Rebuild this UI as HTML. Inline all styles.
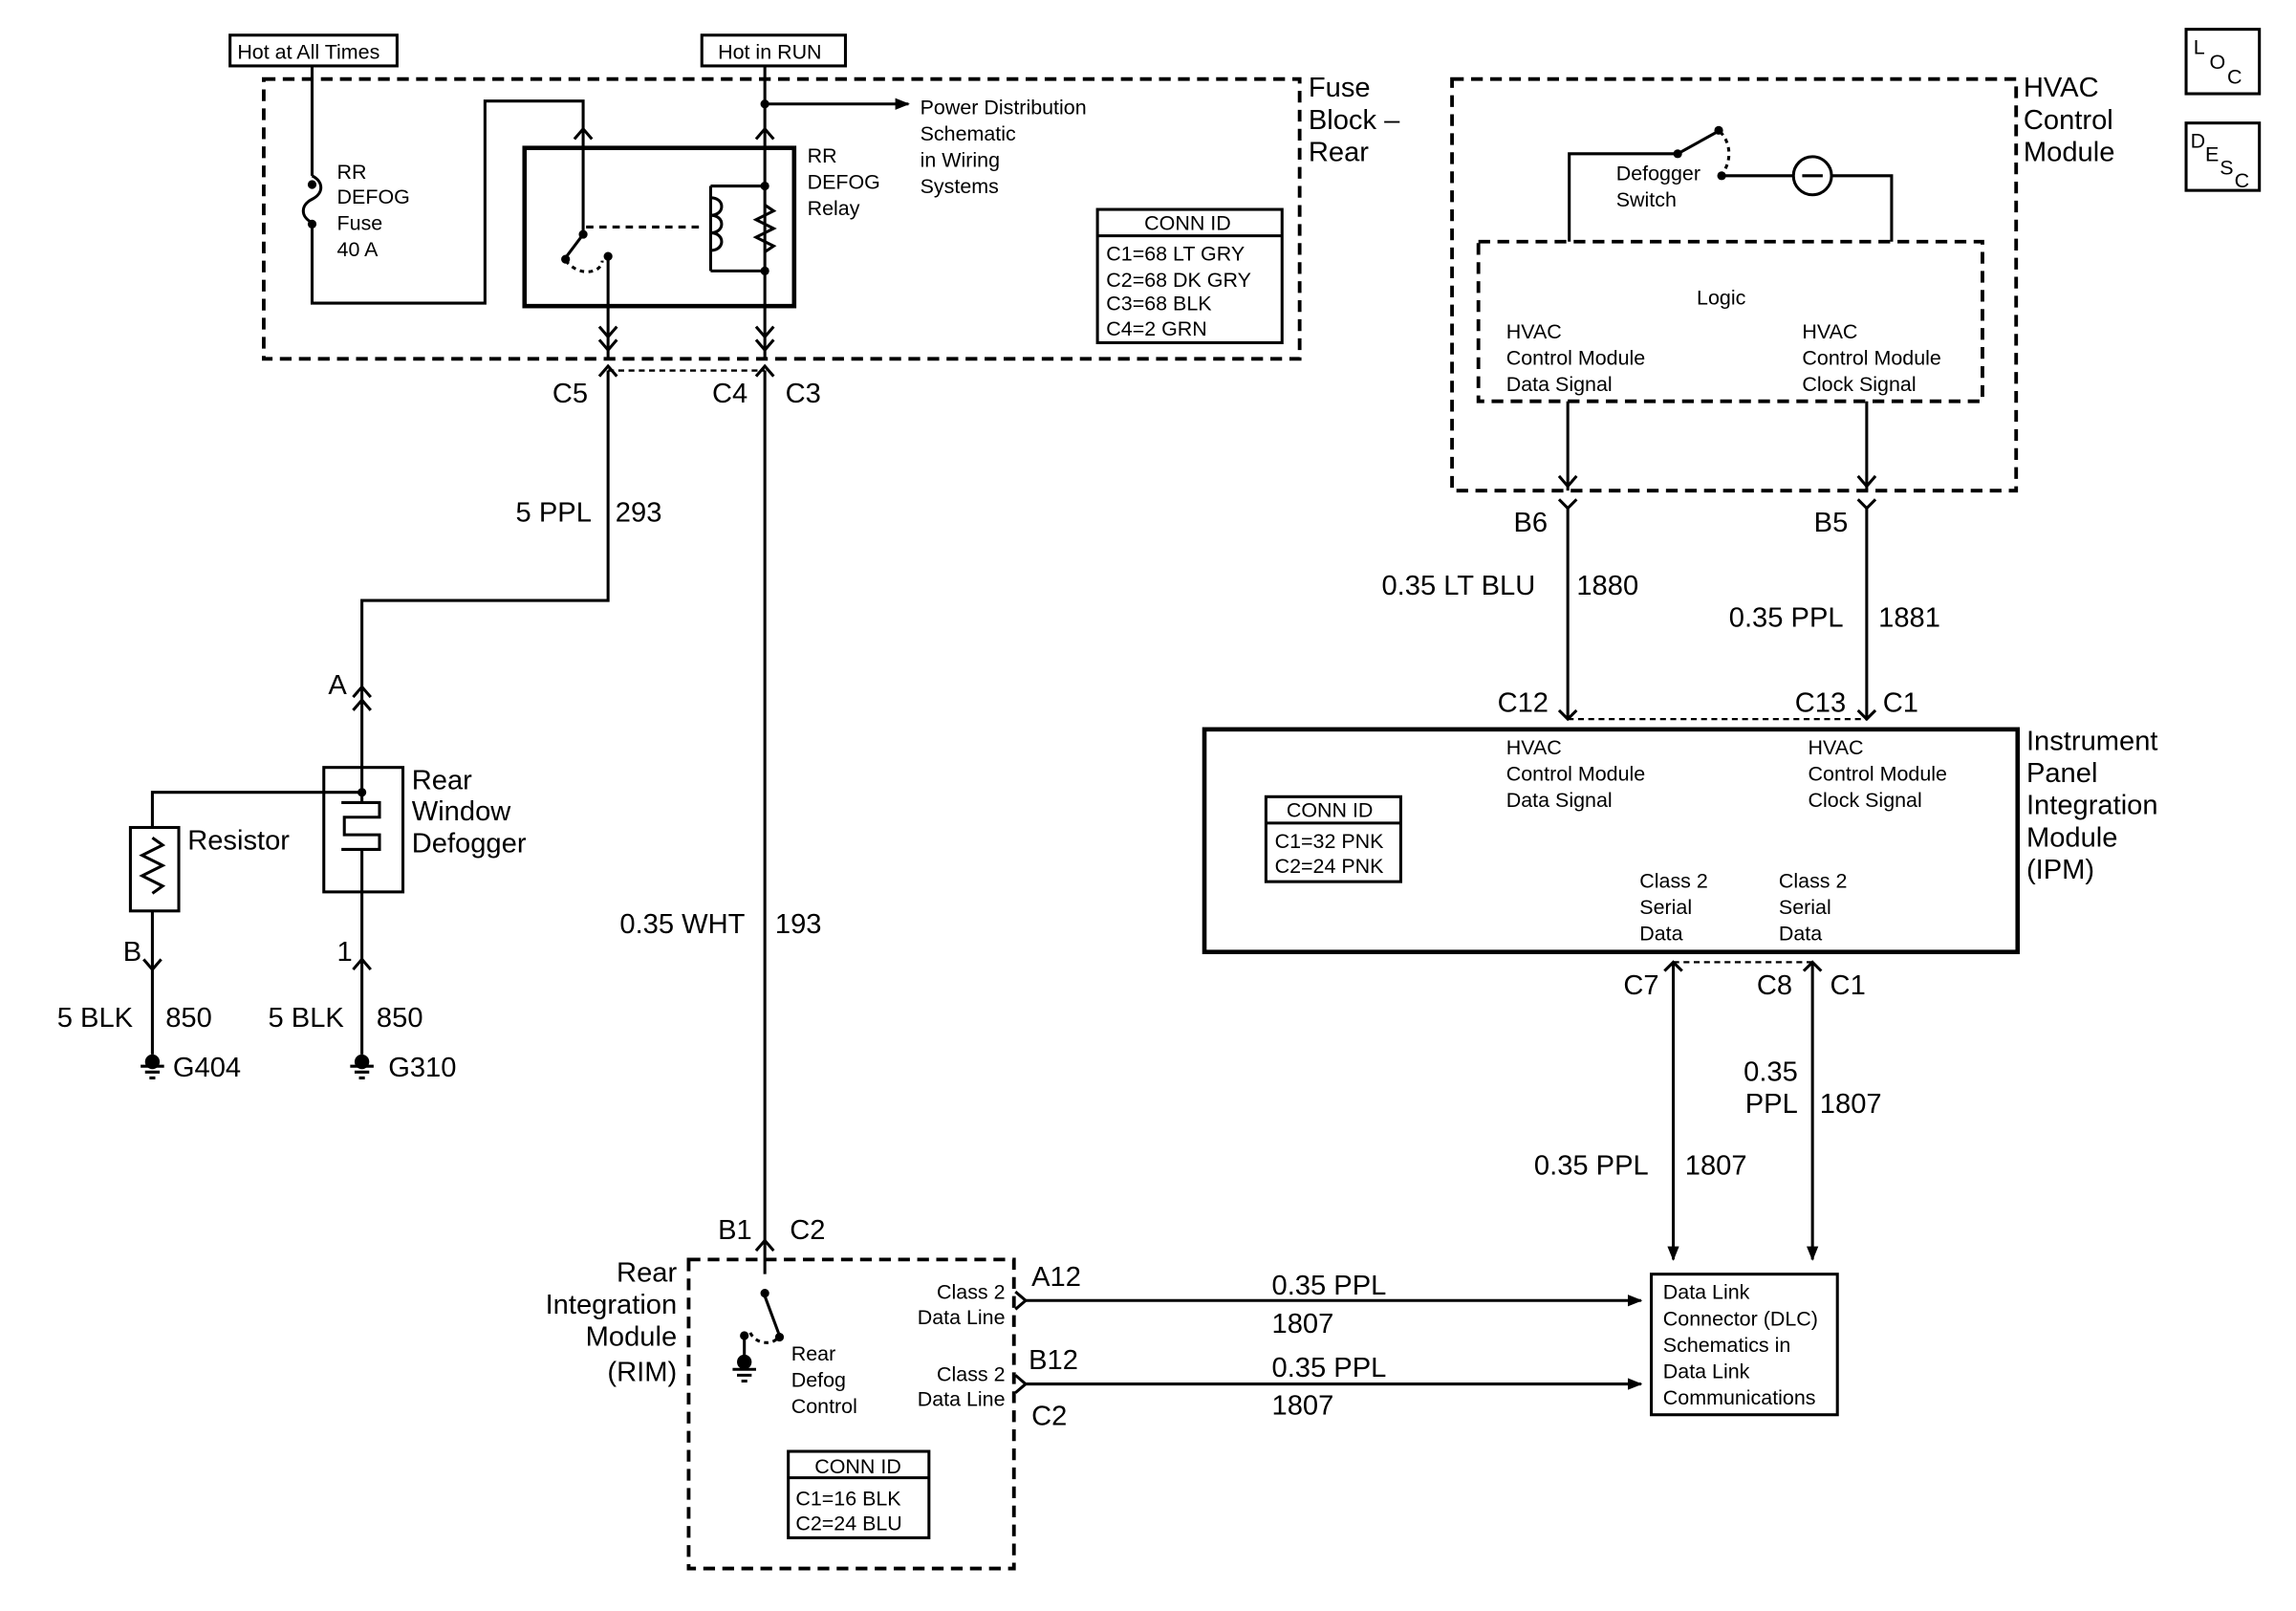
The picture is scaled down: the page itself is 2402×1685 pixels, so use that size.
<!DOCTYPE html>
<html><head><meta charset="utf-8"><style>
html,body{margin:0;padding:0;background:#fff;}
svg{display:block;}
text{font-family:"Liberation Sans",sans-serif;fill:#000;}
.s{font-size:14px;}
.b{font-size:19px;}
</style></head><body>
<svg width="2402" height="1685" viewBox="0 0 1567 1100" preserveAspectRatio="none" xmlns="http://www.w3.org/2000/svg">
<defs>
<marker id="ar" markerWidth="10" markerHeight="8" refX="9" refY="4" orient="auto" markerUnits="userSpaceOnUse"><path d="M0,0 L10,4 L0,8 Z" fill="#000"/></marker>
</defs>
<g fill="none" stroke="#000" stroke-width="2">
<rect x="157" y="24" width="114" height="21"/>
<rect x="479" y="24" width="98" height="21"/>
<rect x="180" y="54" width="707" height="191" stroke-dasharray="8,5" stroke-width="2.5"/>
<path d="M213,45 V120 M213,158 V207 H331 V69 H398 V101"/>
<path d="M213,120 c8,4 8,12 0,16 c-8,4 -8,12 0,16 v6"/>
<path d="M392,95 L398,88 L404,95"/>
<rect x="358" y="101" width="184" height="108" stroke-width="3"/>
<path d="M522,45 V101"/><path d="M522,71 H620" marker-end="url(#ar)"/>
<path d="M516,95 L522,88 L528,95"/>
<path d="M398,101 V160 L386,176 M415,175 V245 M522,101 V245"/>
<path d="M386,178 c10,12 25,8 25,0" stroke-dasharray="3,3"/>
<path d="M400,155 H478" stroke-dasharray="5,4"/>
<path d="M485,127 H522 M485,185 H522 M485,127 V185"/>
<path d="M485,135 c10,0 10,12 0,12 c10,0 10,12 0,12 c10,0 10,12 0,12"/>
<path d="M522,140 l6,4 -12,6 12,6 -12,6 12,6 -6,4"/>
<path d="M409,223 L415,230 L421,223 M409,232 L415,239 L421,232"/>
<path d="M516,223 L522,230 L528,223 M516,232 L522,239 L528,232"/>
<rect x="749" y="143" width="126" height="91"/><path d="M749,161 H875"/>
<path d="M415,253 H522" stroke-dasharray="4,3" stroke-width="1.5"/>
<path d="M409,257 L415,250 L421,257 M516,257 L522,250 L528,257"/>
<path d="M415,253 V410 H247 V478 M522,253 V850"/>
<path d="M241,476 L247,469 L253,476 M241,485 L247,478 L253,485"/>
<path d="M247,478 V524"/>
<rect x="221" y="524" width="54" height="85"/>
<path d="M247,524 V548 M233,548 H259 V558 H235 V570 H259 V580 H233 M247,580 V609"/>
<path d="M104,565 V541 H247"/>
<rect x="89" y="565" width="33" height="57"/>
<path d="M104,572 l7,5 -14,7 14,7 -14,7 14,7 -7,5"/>
<path d="M104,622 V720 M247,609 V720"/>
<path d="M98,655 L104,662 L110,655 M241,662 L247,655 L253,662"/>
<path d="M96,728 H112 M99,732 H109 M102,736 H106 M239,728 H255 M242,732 H252 M245,736 H249"/>
<path d="M516,854 L522,847 L528,854"/>
<rect x="470" y="860" width="222" height="211" stroke-dasharray="8,5" stroke-width="2.5"/>
<path d="M522,850 V870 M522,885 L532,912"/>
<path d="M512,910 c5,10 20,8 20,0" stroke-dasharray="3,3"/>
<path d="M508,912 V930 M500,935 H516 M503,939 H513 M506,943 H510"/>
<rect x="538" y="991" width="96" height="59"/><path d="M538,1009 H634"/>
<path d="M693,882 L700,888 L693,894 M693,939 L700,945 L693,951"/>
<path d="M700,888 H1120" marker-end="url(#ar)"/><path d="M700,945 H1120" marker-end="url(#ar)"/>
<rect x="1127" y="870" width="127" height="96"/>
<rect x="991" y="54" width="385" height="281" stroke-dasharray="8,5" stroke-width="2.5"/>
<rect x="1009" y="165" width="344" height="109" stroke-dasharray="8,5" stroke-width="2.5"/>
<path d="M1071,165 V105 H1145 L1172,90 M1175,120 H1224 M1250,120 H1291 V165"/>
<path d="M1174,90 c8,8 8,22 0,30" stroke-dasharray="3,3"/>
<circle cx="1237" cy="120" r="13"/><path d="M1230,120 H1244"/>
<path d="M1070,274 V335 M1274,274 V335"/>
<path d="M1064,325 L1070,332 L1076,325 M1268,325 L1274,332 L1280,325"/>
<path d="M1064,341 L1070,347 L1076,341 M1268,341 L1274,347 L1280,341"/>
<path d="M1070,347 V491 M1274,347 V491"/>
<path d="M1070,491 H1274" stroke-dasharray="4,3" stroke-width="1.5"/>
<path d="M1064,485 L1070,491 L1076,485 M1268,485 L1274,491 L1280,485"/>
<rect x="822" y="498" width="555" height="152" stroke-width="3"/>
<rect x="864" y="544" width="92" height="58"/><path d="M864,562 H956"/>
<path d="M1142,657 H1237" stroke-dasharray="4,3" stroke-width="1.5"/>
<path d="M1136,663 L1142,657 L1148,663 M1231,663 L1237,657 L1243,663"/>
<path d="M1142,657 V860" marker-end="url(#ar)"/><path d="M1237,657 V860" marker-end="url(#ar)"/>
<rect x="1492" y="20" width="50" height="44"/>
<rect x="1492" y="84" width="50" height="46"/>
</g>
<g fill="#000">
<circle cx="213" cy="126" r="3"/><circle cx="213" cy="153" r="3"/>
<circle cx="522" cy="71" r="3"/><circle cx="522" cy="127" r="3"/><circle cx="522" cy="185" r="3"/>
<circle cx="398" cy="160" r="3"/><circle cx="386" cy="177" r="3"/><circle cx="415" cy="175" r="3"/>
<circle cx="247" cy="541" r="3"/><circle cx="104" cy="725" r="5"/><circle cx="247" cy="725" r="5"/>
<circle cx="522" cy="883" r="3"/><circle cx="532" cy="913" r="3"/><circle cx="508" cy="912" r="3"/><circle cx="508" cy="930" r="5"/>
<circle cx="1145" cy="105" r="3"/><circle cx="1173" cy="89" r="3"/><circle cx="1175" cy="120" r="3"/>
</g>
<text class="s" x="162" y="40">Hot at All Times</text>
<text class="s" x="490" y="40">Hot in RUN</text>
<text class="b" x="893" y="66">Fuse</text><text class="b" x="893" y="88">Block –</text><text class="b" x="893" y="110">Rear</text>
<text class="s" x="230" y="122">RR</text><text class="s" x="230" y="139">DEFOG</text><text class="s" x="230" y="157">Fuse</text><text class="s" x="230" y="175">40 A</text>
<text class="s" x="551" y="111">RR</text><text class="s" x="551" y="129">DEFOG</text><text class="s" x="551" y="147">Relay</text>
<text class="s" x="628" y="78">Power Distribution</text><text class="s" x="628" y="96">Schematic</text><text class="s" x="628" y="114">in Wiring</text><text class="s" x="628" y="132">Systems</text>
<text class="s" x="781" y="157">CONN ID</text>
<text class="s" x="755" y="178">C1=68 LT GRY</text><text class="s" x="755" y="196">C2=68 DK GRY</text><text class="s" x="755" y="212">C3=68 BLK</text><text class="s" x="755" y="229">C4=2 GRN</text>
<text class="b" x="377" y="275">C5</text><text class="b" x="486" y="275">C4</text><text class="b" x="536" y="275">C3</text>
<text class="b" x="352" y="356">5 PPL</text><text class="b" x="420" y="356">293</text>
<text class="b" x="224" y="474">A</text>
<text class="b" x="281" y="539">Rear</text><text class="b" x="281" y="560">Window</text><text class="b" x="281" y="582">Defogger</text>
<text class="b" x="128" y="580">Resistor</text>
<text class="b" x="84" y="656">B</text><text class="b" x="230" y="656">1</text>
<text class="b" x="39" y="701">5 BLK</text><text class="b" x="113" y="701">850</text>
<text class="b" x="183" y="701">5 BLK</text><text class="b" x="257" y="701">850</text>
<text class="b" x="118" y="735">G404</text><text class="b" x="265" y="735">G310</text>
<text class="b" x="423" y="637">0.35 WHT</text><text class="b" x="529" y="637">193</text>
<text class="b" x="490" y="846">B1</text><text class="b" x="539" y="846">C2</text>
<text class="b" x="462" y="875" text-anchor="end">Rear</text><text class="b" x="462" y="897" text-anchor="end">Integration</text><text class="b" x="462" y="919" text-anchor="end">Module</text><text class="b" x="462" y="943" text-anchor="end">(RIM)</text>
<text class="s" x="540" y="929">Rear</text><text class="s" x="540" y="947">Defog</text><text class="s" x="540" y="965">Control</text>
<text class="s" x="686" y="887" text-anchor="end">Class 2</text><text class="s" x="686" y="904" text-anchor="end">Data Line</text>
<text class="s" x="686" y="943" text-anchor="end">Class 2</text><text class="s" x="686" y="960" text-anchor="end">Data Line</text>
<text class="s" x="556" y="1006">CONN ID</text><text class="s" x="543" y="1028">C1=16 BLK</text><text class="s" x="543" y="1045">C2=24 BLU</text>
<text class="b" x="704" y="878">A12</text><text class="b" x="702" y="935">B12</text><text class="b" x="704" y="973">C2</text>
<text class="b" x="868" y="884">0.35 PPL</text><text class="b" x="868" y="910">1807</text>
<text class="b" x="868" y="940">0.35 PPL</text><text class="b" x="868" y="966">1807</text>
<text class="s" x="1135" y="887">Data Link</text><text class="s" x="1135" y="905">Connector (DLC)</text><text class="s" x="1135" y="923">Schematics in</text><text class="s" x="1135" y="941">Data Link</text><text class="s" x="1135" y="959">Communications</text>
<text class="b" x="1381" y="66">HVAC</text><text class="b" x="1381" y="88">Control</text><text class="b" x="1381" y="110">Module</text>
<text class="s" x="1103" y="123">Defogger</text><text class="s" x="1103" y="141">Switch</text>
<text class="s" x="1158" y="208">Logic</text>
<text class="s" x="1028" y="231">HVAC</text><text class="s" x="1028" y="249">Control Module</text><text class="s" x="1028" y="267">Data Signal</text>
<text class="s" x="1230" y="231">HVAC</text><text class="s" x="1230" y="249">Control Module</text><text class="s" x="1230" y="267">Clock Signal</text>
<text class="b" x="1033" y="363">B6</text><text class="b" x="1238" y="363">B5</text>
<text class="b" x="943" y="406">0.35 LT BLU</text><text class="b" x="1076" y="406">1880</text>
<text class="b" x="1180" y="428">0.35 PPL</text><text class="b" x="1282" y="428">1881</text>
<text class="b" x="1022" y="486">C12</text><text class="b" x="1225" y="486">C13</text><text class="b" x="1285" y="486">C1</text>
<text class="b" x="1383" y="512">Instrument</text><text class="b" x="1383" y="534">Panel</text><text class="b" x="1383" y="556">Integration</text><text class="b" x="1383" y="578">Module</text><text class="b" x="1383" y="600">(IPM)</text>
<text class="s" x="1028" y="515">HVAC</text><text class="s" x="1028" y="533">Control Module</text><text class="s" x="1028" y="551">Data Signal</text>
<text class="s" x="1234" y="515">HVAC</text><text class="s" x="1234" y="533">Control Module</text><text class="s" x="1234" y="551">Clock Signal</text>
<text class="s" x="878" y="558">CONN ID</text><text class="s" x="870" y="579">C1=32 PNK</text><text class="s" x="870" y="596">C2=24 PNK</text>
<text class="s" x="1119" y="606">Class 2</text><text class="s" x="1119" y="624">Serial</text><text class="s" x="1119" y="642">Data</text>
<text class="s" x="1214" y="606">Class 2</text><text class="s" x="1214" y="624">Serial</text><text class="s" x="1214" y="642">Data</text>
<text class="b" x="1108" y="679">C7</text><text class="b" x="1199" y="679">C8</text><text class="b" x="1249" y="679">C1</text>
<text class="b" x="1227" y="738" text-anchor="end">0.35</text><text class="b" x="1227" y="760" text-anchor="end">PPL</text><text class="b" x="1242" y="760">1807</text>
<text class="b" x="1047" y="802">0.35 PPL</text><text class="b" x="1150" y="802">1807</text>
<text class="s" x="1497" y="37">L</text><text class="s" x="1508" y="47">O</text><text class="s" x="1520" y="57">C</text>
<text class="s" x="1495" y="101">D</text><text class="s" x="1505" y="110">E</text><text class="s" x="1515" y="119">S</text><text class="s" x="1525" y="128">C</text>
</svg>
</body></html>
